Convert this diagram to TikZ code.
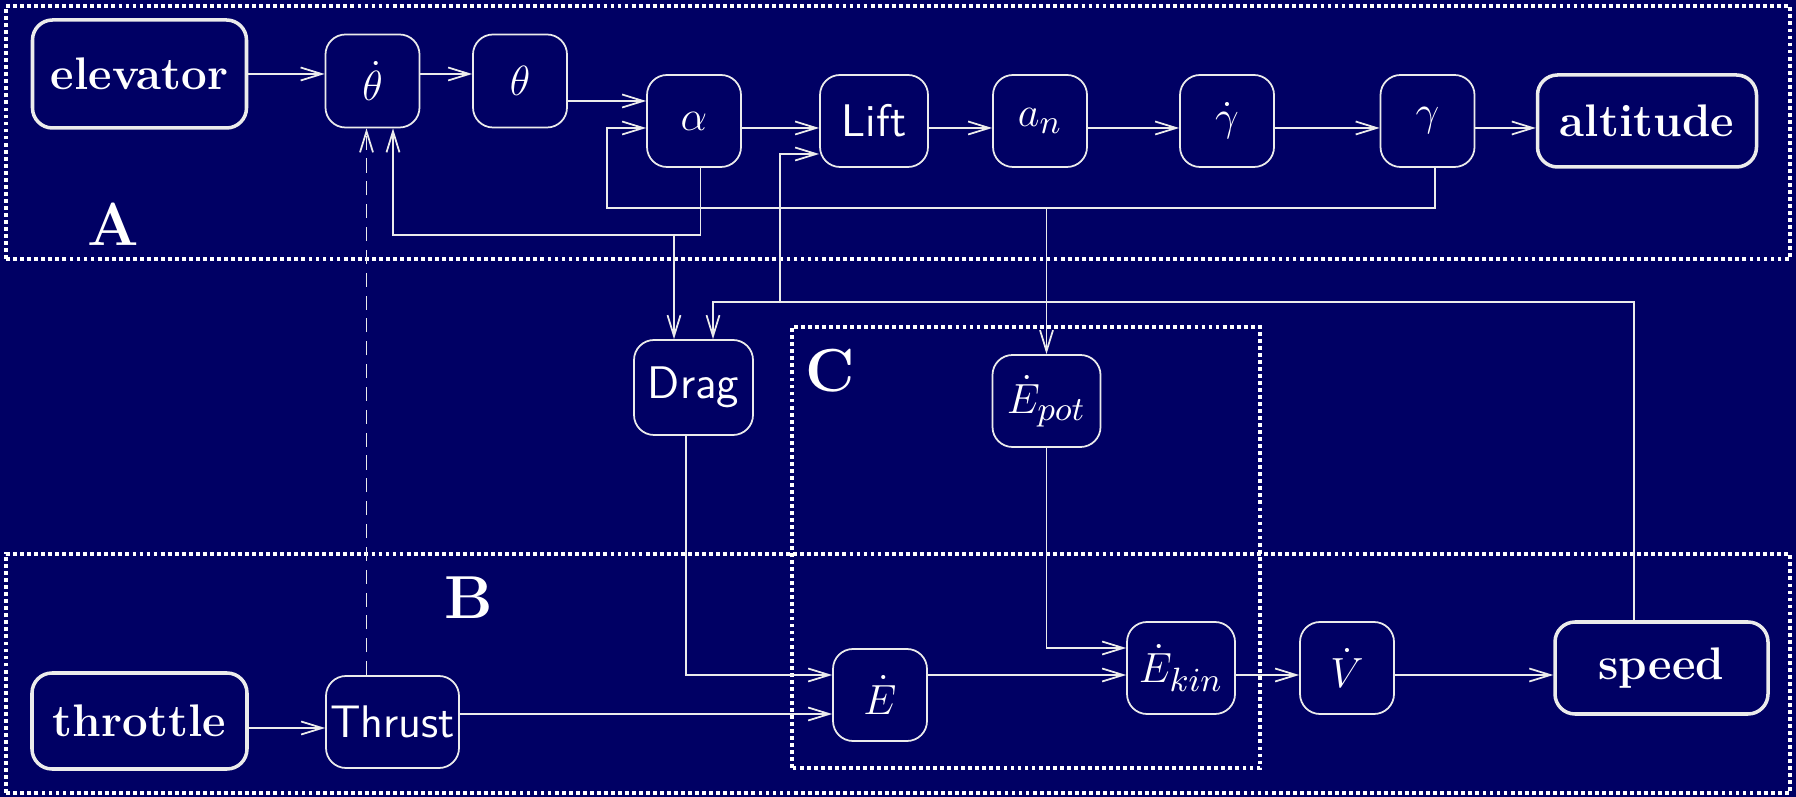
\RequirePackage{fix-cm}
\documentclass[tikz,border=0pt]{standalone}
\usepackage{amsmath}
\usepackage{tikz}
\usetikzlibrary{calc}
\usetikzlibrary{arrows.meta}
\definecolor{mynavy}{RGB}{0,0,100}
\colorlet{myline}{white!92!black}
\newcommand{\blkfont}{\fontsize{13}{15}\selectfont}
\DeclareMathSizes{13}{12}{9.6}{7}
\tikzset{>={Straight Barb[length=2.1mm, width=1.3mm]}}
\tikzset{
  blk/.style={draw=myline, rounded corners=2mm, minimum width=0.94cm, minimum height=0.92cm, inner sep=1pt, text=white, font=\blkfont},
  io/.style={blk, line width=1pt, font=\blkfont\bfseries},
  grp/.style={draw=white, line width=1.3pt, dash pattern=on 1.1pt off 0.9pt},
  grplabel/.style={text=white, font=\LARGE\bfseries},
}

\begin{document}
\begin{tikzpicture}[myline, line width=0.5pt]
    \fill [mynavy] (0, 0) rectangle (17.96, 7.97);

    % groups
    \draw [grp] (0.06, 5.38) rectangle (17.90, 7.91);
    \draw [grp] (0.06, 0.04) rectangle (17.90, 2.43);
    \draw [grp] (7.92, 0.29) rectangle (12.60, 4.70);
    \node [grplabel] (labA) at (1.13, 5.73) {A};
    \node [grplabel] (labB) at (4.69, 1.99) {B};
    \node [grplabel] (labC) at (8.30, 4.26) {C};

    % A: pitch
    \node [io, minimum width=2.14cm, minimum height=1.08cm] (elevator) at (1.395, 7.23) {elevator};
    \node [blk, minimum width=0.94cm, minimum height=0.93cm] (thetad) at (3.725, 7.16) {$\dot\theta$};
    \node [blk, minimum height=0.93cm] (theta) at (5.20, 7.16) {$\theta$};
    \node [blk] (alpha) at (6.94, 6.76) {$\alpha$};
    \node [blk, minimum width=1.08cm, font=\blkfont\sffamily] (lift) at (8.74, 6.76) {Lift};
    \node [blk] (an) at (10.40, 6.76) {$a_n$};
    \node [blk] (gammad) at (12.27, 6.76) {$\dot\gamma$};
    \node [blk] (gamma) at (14.275, 6.76) {$\gamma$};
    \node [io, minimum width=2.19cm] (altitude) at (16.47, 6.76) {altitude};

    \node [blk, minimum width=1.19cm, minimum height=0.95cm, font=\blkfont\sffamily] (drag) at (6.935, 4.095) {Drag};
    \node [blk, minimum width=1.08cm] (epot) at (10.465, 3.96) {$\dot E_{pot}$};

    % B: speed
    \node [io, minimum width=2.15cm, minimum height=0.96cm] (throttle) at (1.395, 0.76) {throttle};
    \node [blk, minimum width=1.33cm, font=\blkfont\sffamily] (thrust) at (3.925, 0.75) {Thrust};
    \node [blk] (edot) at (8.80, 1.02) {$\dot E$};
    \node [blk, minimum width=1.08cm] (ekin) at (11.81, 1.29) {$\dot E_{kin}$};
    \node [blk] (vdot) at (13.47, 1.29) {$\dot V$};
    \node [io, minimum width=2.13cm] (speed) at (16.615, 1.29) {speed};

    \coordinate (row) at (0, 6.69);
    \coordinate (low) at (0, 1.22);
    \coordinate (fbG) at (6.07, 5.89);
    \coordinate (fbA) at (3.93, 5.62);
    \coordinate (fbS) at (7.80, 4.95);

    \draw [->] (elevator) -- (thetad.west |- elevator);
    \draw [->] (thetad.east |- elevator) -- (theta.west |- elevator);
    \draw [->] ([yshift=-2mm]theta.east) -- ([yshift=-2mm]theta.east -| alpha.west);
    \draw [->] (alpha.east |- row) -- (lift.west |- row);
    \draw [->] (lift.east |- row) -- (an.west |- row);
    \draw [->] (an.east |- row) -- (gammad.west |- row);
    \draw [->] (gammad.east |- row) -- (gamma.west |- row);
    \draw [->] (gamma.east |- row) -- (altitude.west |- row);

    % feedback
    \draw [->] ([xshift=0.75mm]gamma.south) |- (fbG) |- (alpha.west |- row);
    \draw [->] (epot.north |- fbG) -- (epot.north);
    \draw [->] ([xshift=0.65mm]alpha.south) |- (fbA) -- (thetad.south -| fbA);
    \draw [->] ([xshift=-1.95mm]drag.north |- fbA) -- ([xshift=-1.95mm]drag.north);
    \draw [->, dash pattern=on 4pt off 2.5pt] ([xshift=-2.6mm]thrust.north) -- ([xshift=-2.6mm]thrust.north |- thetad.south);
    \draw [->] ([xshift=-2.75mm]speed.north) |- ([xshift=1.95mm]drag.north |- fbS) -- ([xshift=1.95mm]drag.north);
    \draw [->] (fbS) |- ([yshift=-3.3mm]lift.west);

    \draw [->] ([yshift=-0.7mm]throttle.east) -- ([yshift=-0.7mm]throttle.east -| thrust.west);
    \draw [->] ([yshift=0.8mm]thrust.east) -- ([yshift=0.8mm]thrust.east -| edot.west);
    \draw [->] ([xshift=-0.75mm]drag.south) |- (edot.west |- low);
    \draw [->] (edot.east |- low) -- (ekin.west |- low);
    \draw [->] (epot.south) |- ([yshift=2mm]ekin.west);
    \draw [->] (ekin.east |- low) -- (vdot.west |- low);
    \draw [->] (vdot.east |- low) -- (speed.west |- low);
\end{tikzpicture}
\end{document}
